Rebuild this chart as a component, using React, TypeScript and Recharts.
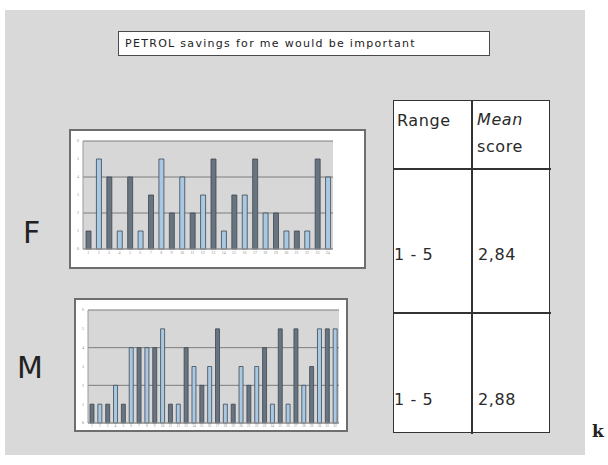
import { BarChart, Bar, XAxis, YAxis, CartesianGrid, Cell } from "recharts";

// respondent numbers along the x axis
const fRespondents = ["1","2","3","4","5","6","7","8","9","10","11","12","13","14","15","16","17","18","19","20","21","22","23","24"];
const fScores = [1, 5, 4, 1, 4, 1, 3, 5, 2, 4, 2, 3, 5, 1, 3, 3, 5, 2, 2, 1, 1, 1, 5, 4];

const mRespondents = ["1","2","3","4","5","6","7","8","9","10","11","12","13","14","15","16","17","18","19","20","21","22","23","24","25","26","27","28","29","30","31","32"];
const mScores = [1, 1, 1, 2, 1, 4, 4, 4, 4, 5, 1, 1, 4, 3, 2, 3, 5, 1, 1, 3, 2, 3, 4, 1, 5, 1, 5, 2, 3, 5, 5, 5];

const scoreTicks = [0, 1, 2, 3, 4, 5, 6];

const title = "PETROL savings for me would be important";
const tableHead = ["Range", "Mean", "score"];
const tableRows = [
  { group: "F", range: "1 - 5", mean: "2,84" },
  { group: "M", range: "1 - 5", mean: "2,88" },
];

const font = "'DejaVu Sans', sans-serif";

function ScoreChart({ names, scores, width, height, margin, barSize, axisH, tickSize }: {
  names: string[]; scores: number[]; width: number; height: number;
  margin: { top: number; right: number; left: number; bottom: number };
  barSize: number; axisH: number; tickSize: number;
}) {
  const data = names.map((n, i) => ({ n, v: scores[i] }));
  return (
    <BarChart width={width} height={height} data={data} margin={margin} barCategoryGap={0}>
      <CartesianGrid vertical={false} fill="#d7d7d7" stroke="#7d7d7d" strokeWidth={1} />
      <XAxis
        dataKey="n"
        interval={0}
        axisLine={{ stroke: "#9a9a9a" }}
        tickLine={false}
        tickSize={1}
        height={axisH}
        tick={{ fontSize: tickSize, fill: "#8a8a8a" }}
        tickMargin={1}
      />
      <YAxis
        domain={[0, 6]}
        ticks={scoreTicks}
        width={12}
        axisLine={{ stroke: "#9a9a9a" }}
        tickLine={false}
        tickSize={2}
        tick={{ fontSize: 4, fill: "#8a8a8a" }}
      />
      <Bar dataKey="v" barSize={barSize} isAnimationActive={false} stroke="#3d4853" strokeWidth={0.8}>
        {data.map((_, i) => (
          <Cell key={i} fill={i % 2 === 0 ? "#68747f" : "#a9c9e3"} />
        ))}
      </Bar>
    </BarChart>
  );
}

export default function App() {
  const abs = (l: number, t: number, w?: number, h?: number) =>
    ({ position: "absolute" as const, left: l, top: t, width: w, height: h });
  const cellText = { position: "absolute" as const, fontFamily: font, fontSize: 16, color: "#2a2a2a", letterSpacing: 0.6, whiteSpace: "nowrap" as const };

  return (
    <div style={{ position: "absolute", left: 0, top: 0, width: 608, height: 465, background: "#fff", overflow: "hidden" }}>
      <div style={{ ...abs(5, 10, 580, 445), background: "#d9d9d9" }} />

      <div style={{ ...abs(118, 31, 372, 25), background: "#fff", border: "1px solid #4a4a4a", boxSizing: "border-box",
        fontFamily: font, fontSize: 11, lineHeight: "23px", paddingLeft: 6, color: "#222", letterSpacing: 1.3, whiteSpace: "nowrap" }}>
        {title}
      </div>

      <div style={{ ...abs(23, 215), fontFamily: font, fontSize: 30, color: "#222" }}>{tableRows[0].group}</div>
      <div style={{ ...abs(17, 350), fontFamily: font, fontSize: 30, color: "#222" }}>{tableRows[1].group}</div>

      <div style={{ ...abs(69, 129, 297, 140), background: "#fff", border: "2px solid #6e6e6e", boxSizing: "border-box" }}>
        <ScoreChart names={fRespondents} scores={fScores} width={293} height={136}
          margin={{ top: 10, right: 31, left: 0, bottom: 0 }} barSize={5} axisH={18} tickSize={4} />
      </div>

      <div style={{ ...abs(74, 298, 274, 134), background: "#fff", border: "2px solid #6e6e6e", boxSizing: "border-box" }}>
        <ScoreChart names={mRespondents} scores={mScores} width={270} height={130}
          margin={{ top: 10, right: 7, left: 0, bottom: 0 }} barSize={4} axisH={7} tickSize={3.5} />
      </div>

      <div style={{ ...abs(393, 100, 157, 333), background: "#fff", border: "1.5px solid #333", boxSizing: "border-box" }}>
        <div style={{ ...abs(77, 0, 1.5, 333), background: "#333" }} />
        <div style={{ ...abs(0, 67, 157, 1.5), background: "#333" }} />
        <div style={{ ...abs(0, 211, 157, 1.5), background: "#333" }} />
        <div style={{ ...cellText, left: 3, top: 10 }}>{tableHead[0]}</div>
        <div style={{ ...cellText, left: 83, top: 9, fontStyle: "italic" }}>{tableHead[1]}</div>
        <div style={{ ...cellText, left: 83, top: 36 }}>{tableHead[2]}</div>
        {tableRows.map((r, i) => (
          <div key={r.group}>
            <div style={{ ...cellText, left: 0, top: 144 + i * 145 }}>{r.range}</div>
            <div style={{ ...cellText, left: 84, top: 144 + i * 145 }}>{r.mean}</div>
          </div>
        ))}
      </div>

      <div style={{ ...abs(592, 421), fontFamily: "'DejaVu Serif', serif", fontWeight: "bold", fontSize: 17, color: "#222" }}>k</div>
    </div>
  );
}
